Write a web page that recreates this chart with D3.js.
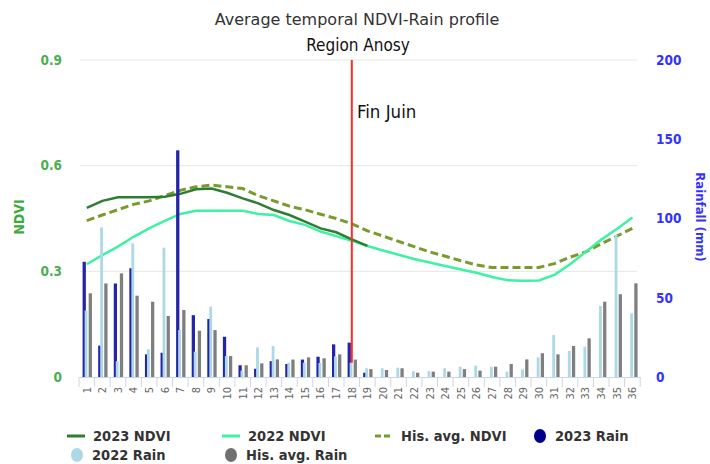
<!DOCTYPE html>
<html><head><meta charset="utf-8">
<script src="https://cdn.jsdelivr.net/npm/d3@7"></script>
<style>body{margin:0;background:#fff;} svg{display:block;font-family:"DejaVu Sans",Verdana,sans-serif;}</style>
</head><body><svg id="c" width="710" height="464"></svg>
<script>
const weeks = d3.range(1, 37).map(String);
const ndvi2023 = [0.48,0.50,0.51,0.51,0.51,0.512,0.52,0.533,0.535,0.523,0.507,0.493,0.474,0.46,0.441,0.422,0.411,0.391,0.372,null,null,null,null,null,null,null,null,null,null,null,null,null,null,null,null,null];
const ndvi2022 = [0.32,0.346,0.37,0.398,0.422,0.443,0.463,0.472,0.472,0.472,0.472,0.463,0.46,0.443,0.432,0.413,0.40,0.387,0.372,0.359,0.347,0.335,0.325,0.315,0.305,0.296,0.284,0.275,0.273,0.274,0.29,0.32,0.355,0.39,0.42,0.453];
const ndviHis = [0.444,0.46,0.475,0.49,0.50,0.515,0.53,0.54,0.545,0.54,0.535,0.515,0.50,0.485,0.475,0.462,0.45,0.435,0.415,0.40,0.385,0.37,0.355,0.343,0.33,0.318,0.311,0.311,0.311,0.311,0.322,0.34,0.355,0.378,0.40,0.422];
const rain2023 = [72.7,19.8,59,68.6,14.3,15.3,143,39,36.6,25.4,7.4,5.2,10,8.2,11,12.8,20.6,21.7,2.7,null,null,null,null,null,null,null,null,null,null,null,null,null,null,null,null,null];
const rain2022 = [42,94.4,10,84.3,17.5,81.6,29.6,16,44.4,13.2,4,18.7,19.6,9,9,8.8,13,9,5.5,5.5,5.9,3.7,3.7,5.5,6.5,7.2,6.5,3.4,4.8,12.4,26.5,16.4,19.1,44.8,89.6,40.2];
const rainHis = [52.8,59,65.4,51.3,47.5,38.5,42.3,29.2,29.6,13.2,7.4,8.6,11.1,11,12.4,11.8,14.3,11,5,4.4,5.5,2.7,3.4,3.4,5,4,6.5,8.2,11.1,15,14.3,19.6,24.4,47.5,52.2,59.1];
const ndviTicks = [0, 0.3, 0.6, 0.9];
const rainTicks = [0, 50, 100, 150, 200];
const markerWeek = "18";

const COND = '"DejaVu Sans Condensed","DejaVu Sans",sans-serif';
const svg = d3.select("#c");
const x = d3.scaleBand().domain(weeks).range([79, 640.2]);
const yN = d3.scaleLinear().domain([0, 0.9]).range([377, 60]);
const yR = d3.scaleLinear().domain([0, 200]).range([377, 60]);
const bw = x.bandwidth();

// gridlines
svg.append("g").selectAll("line").data(ndviTicks.filter(d => d > 0)).join("line")
  .attr("x1", 80).attr("x2", 637).attr("y1", d => yN(d)).attr("y2", d => yN(d))
  .attr("stroke", "#e6e6e6").attr("stroke-width", 1);

// x axis
const xa = svg.append("g").attr("transform", "translate(0,377)")
  .call(d3.axisBottom(x).tickSize(0).tickPadding(0));
xa.select(".domain").attr("stroke", "#ccd6eb");
xa.selectAll(".tick text").attr("transform", "rotate(-90)").attr("x", -10).attr("y", 0)
  .attr("dy", "0.35em").attr("text-anchor", "end").attr("fill", "#666").attr("font-size", 11)
  .attr("font-family", COND);
svg.append("g").selectAll("line").data(weeks.concat(["end"])).join("line")
  .attr("x1", d => d === "end" ? x.range()[1] : x(d)).attr("x2", d => d === "end" ? x.range()[1] : x(d))
  .attr("y1", 377).attr("y2", 387).attr("stroke", "#ccd6eb");

// left axis
const la = svg.append("g").attr("transform", "translate(62,0)")
  .call(d3.axisLeft(yN).tickValues(ndviTicks).tickFormat(d => d === 0 ? "0" : d3.format(".1f")(d)).tickSize(0).tickPadding(0));
la.select(".domain").remove();
la.selectAll("text").attr("fill", "#4caf50").attr("font-size", 13.5).attr("font-weight", "bold").attr("font-family", COND);
svg.append("text").attr("transform", "translate(19,217) rotate(-90)").attr("text-anchor", "middle")
  .attr("dy", "0.35em").attr("fill", "#3daa3d").attr("font-size", 14).attr("font-weight", "bold")
  .attr("font-family", COND).text("NDVI");

// right axis
const ra = svg.append("g").attr("transform", "translate(656,0)")
  .call(d3.axisRight(yR).tickValues(rainTicks).tickSize(0).tickPadding(0));
ra.select(".domain").remove();
ra.selectAll("text").attr("fill", "#3333ff").attr("font-size", 13.5).attr("font-weight", "bold").attr("font-family", COND);
svg.append("text").attr("transform", "translate(701,217) rotate(90)").attr("text-anchor", "middle")
  .attr("dy", "0.35em").attr("fill", "#3333ff").attr("font-size", 13).attr("font-weight", "bold")
  .attr("font-family", COND).text("Rainfall (mm)");

// lines
const line = d3.line().defined(d => d.v != null).x(d => x(d.w) + bw / 2).y(d => yN(d.v));
const toPts = arr => weeks.map((w, i) => ({ w, v: arr[i] }));
svg.append("path").datum(toPts(ndviHis)).attr("d", line).attr("fill", "none")
  .attr("stroke", "#7a9a2e").attr("stroke-width", 3).attr("stroke-dasharray", "8,4");
svg.append("path").datum(toPts(ndvi2022)).attr("d", line).attr("fill", "none")
  .attr("stroke", "#3df2a2").attr("stroke-width", 2.5);
svg.append("path").datum(toPts(ndvi2023)).attr("d", line).attr("fill", "none")
  .attr("stroke", "#2e7d32").attr("stroke-width", 2.5);

// bars
function bars(arr, off, w, color) {
  svg.append("g").selectAll("rect").data(toPts(arr).filter(d => d.v != null)).join("rect")
    .attr("x", d => x(d.w) + off * bw).attr("width", w * bw)
    .attr("y", d => yR(d.v)).attr("height", d => yR(0) - yR(d.v)).attr("fill", color);
}
bars(rain2023, 0.23, 0.21, "#2424a8");
bars(rain2022, 0.36, 0.18, "#add8e6");
bars(rainHis, 0.62, 0.21, "#7f7f7f");

// marker line
svg.append("line").attr("x1", x(markerWeek) + bw / 2).attr("x2", x(markerWeek) + bw / 2)
  .attr("y1", yR(200)).attr("y2", yR(9)).attr("stroke", "#ff2a2a").attr("stroke-width", 2);
svg.append("text").attr("x", 357).attr("y", 118).attr("fill", "#111").attr("font-size", 18.5)
  .attr("font-family", COND).text("Fin Juin");

// titles
svg.append("text").attr("x", 357).attr("y", 25).attr("text-anchor", "middle").attr("fill", "#333")
  .attr("font-size", 16).text("Average temporal NDVI-Rain profile");
svg.append("text").attr("x", 358).attr("y", 51).attr("text-anchor", "middle").attr("fill", "#111")
  .attr("font-size", 17).attr("font-family", COND).text("Region Anosy");

// legend
const legend = [
  { name: "2023 NDVI", type: "line", color: "#2e7d32", x: 67, y: 436 },
  { name: "2022 NDVI", type: "line", color: "#3df2a2", x: 222, y: 436 },
  { name: "His. avg. NDVI", type: "dash", color: "#7a9a2e", x: 375, y: 436 },
  { name: "2023 Rain", type: "dot", color: "#00008b", x: 534, y: 436 },
  { name: "2022 Rain", type: "dot", color: "#add8e6", x: 71, y: 455 },
  { name: "His. avg. Rain", type: "dot", color: "#707070", x: 225, y: 455 }
];
const lg = svg.append("g").selectAll("g").data(legend).join("g").attr("transform", d => `translate(${d.x},${d.y})`);
lg.filter(d => d.type !== "dot").append("line").attr("x1", 0).attr("x2", 18).attr("y1", 0).attr("y2", 0)
  .attr("stroke", d => d.color).attr("stroke-width", 3).attr("stroke-dasharray", d => d.type === "dash" ? "6,3" : null);
lg.filter(d => d.type === "dot").append("ellipse").attr("cx", 6).attr("cy", 0).attr("rx", 6).attr("ry", 7).attr("fill", d => d.color);
lg.append("text").attr("x", d => d.type === "dot" ? 21 : 26).attr("y", 0).attr("dy", "0.35em")
  .attr("fill", "#333").attr("font-size", 14.5).attr("font-weight", "bold").attr("font-family", COND).text(d => d.name);
</script></body></html>
